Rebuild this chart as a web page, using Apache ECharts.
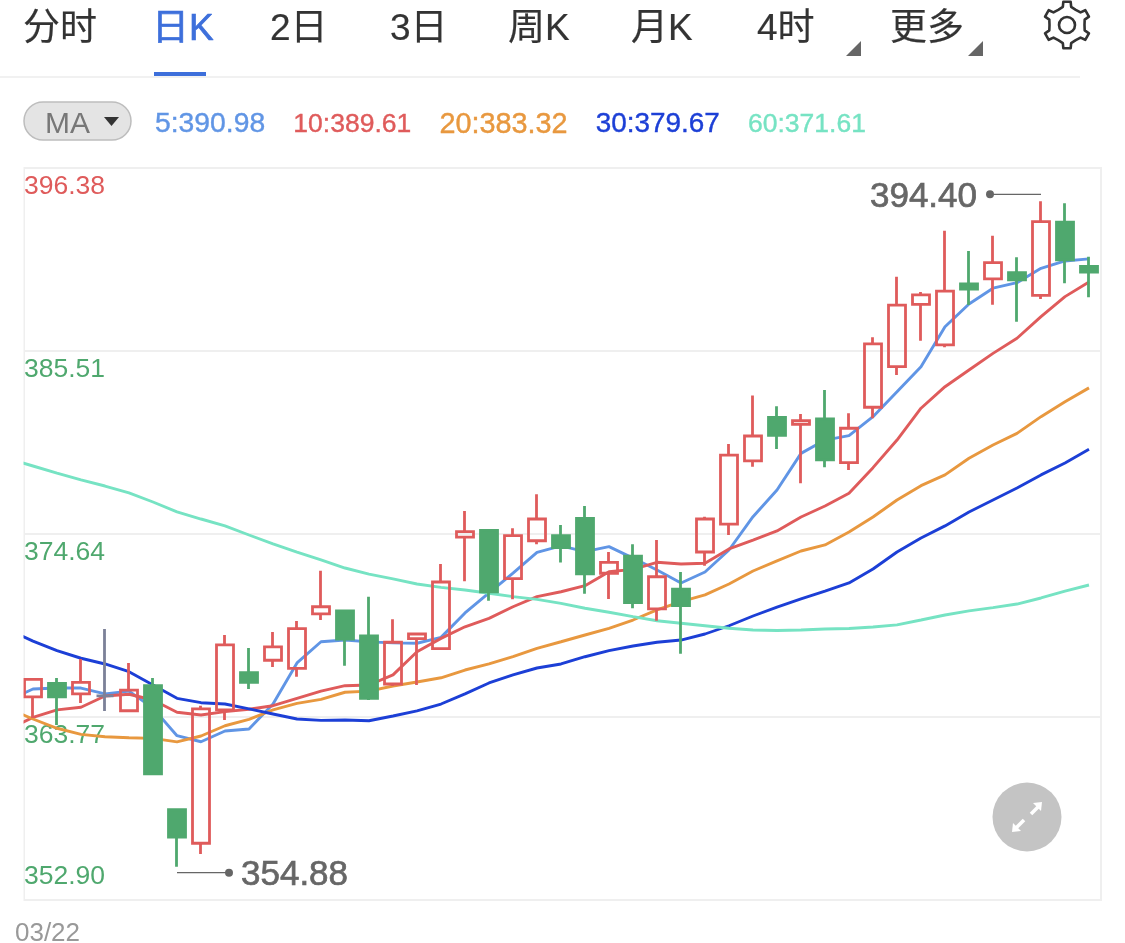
<!DOCTYPE html>
<html><head><meta charset="utf-8">
<script src="https://cdn.jsdelivr.net/npm/echarts@6/dist/echarts.min.js"></script>
<style>html,body{margin:0;padding:0;background:#fff}#c{width:1125px;height:943px}</style>
</head><body><div id="c"></div>
<script>
const tabs = ['分时','日K','2日','3日','周K','月K','4时','更多'];
const maNames = ['5:390.98','10:389.61','20:383.32','30:379.67','60:371.61'];
const yTicks = [352.90,363.77,374.64,385.51,396.38];
const firstDate = '03/22';

const opens  = [364.96,365.77,365.14,365.02,364.14,365.63,358.26,356.27,364.19,366.40,367.14,366.66,369.89,370.07,368.58,365.73,368.42,367.83,374.46,374.86,371.99,374.24,374.54,375.57,372.31,373.32,370.19,371.37,373.57,375.23,378.98,381.57,381.16,381.47,378.88,382.17,384.58,388.28,385.87,389.49,389.80,390.16,388.82,393.17,390.54];
const closes = [366.01,364.96,365.83,365.02,365.37,360.40,356.64,364.25,368.05,365.83,367.93,369.02,370.32,368.39,364.88,368.21,368.70,371.79,374.78,371.20,374.54,375.53,373.83,372.28,372.96,370.56,372.10,370.38,375.53,379.33,380.46,380.50,381.37,379.05,380.92,385.93,388.24,388.84,389.07,389.19,390.76,389.73,393.19,390.92,390.20];
const lows   = [363.71,363.30,364.60,364.13,364.14,360.40,354.88,355.63,363.59,365.43,366.74,366.16,369.53,366.82,364.78,365.61,365.67,367.83,371.83,370.68,370.76,374.03,372.94,371.09,370.78,370.23,369.49,367.53,372.76,374.58,378.64,379.69,377.65,378.60,378.44,381.51,384.09,386.12,385.73,388.24,388.26,387.25,388.60,389.53,388.70];
const highs  = [366.05,366.09,367.22,369.00,366.98,366.09,358.30,364.44,368.64,367.87,368.82,369.47,372.46,370.13,370.92,369.57,368.72,372.86,376.01,374.88,374.98,377.00,375.18,376.30,373.57,374.03,374.28,372.38,375.67,379.99,382.86,382.23,381.77,383.19,381.81,386.32,389.92,389.02,392.66,391.45,392.36,391.08,394.40,394.28,391.11];

// Each moving average starts one session before the first visible candle (clipped at the chart edge).
const ma5  = [364.78,365.43,365.49,365.49,365.14,365.31,364.30,362.66,362.30,362.94,363.06,364.54,366.98,368.24,368.34,368.23,368.17,368.15,368.50,369.95,371.14,372.32,373.55,373.93,373.59,373.89,373.21,372.50,371.73,372.38,373.69,375.67,377.25,379.43,380.22,380.48,381.61,383.09,384.58,386.95,388.30,389.24,389.57,390.42,390.86,390.98];
const ma10 = [363.06,363.75,364.19,364.35,365.02,365.12,364.78,364.05,363.89,364.09,364.23,364.44,364.88,365.31,365.63,365.67,366.27,367.65,368.44,369.13,369.63,370.32,370.92,371.21,371.57,372.40,372.54,372.96,372.86,372.90,373.75,374.28,374.82,375.65,376.30,377.06,378.58,380.22,382.11,383.39,384.38,385.37,386.27,387.55,388.74,389.61];
const ma20 = [364.25,363.65,363.10,362.74,362.60,362.54,362.50,362.29,362.64,363.25,363.63,364.19,364.58,364.82,365.24,365.31,365.61,365.85,366.10,366.56,366.92,367.35,367.85,368.24,368.64,369.04,369.53,370.13,370.62,371.02,371.67,372.44,373.04,373.63,373.99,374.76,375.65,376.66,377.51,378.15,379.14,379.93,380.62,381.61,382.50,383.32];
const ma30 = [368.94,368.28,367.71,367.26,366.92,366.46,365.67,364.88,364.62,364.54,364.25,363.95,363.65,363.57,363.59,363.55,363.83,364.13,364.54,365.14,365.79,366.27,366.68,366.92,367.35,367.71,367.99,368.21,368.34,368.70,369.19,369.77,370.30,370.78,371.25,371.73,372.56,373.57,374.40,375.12,375.95,376.66,377.37,378.15,378.86,379.67];
const ma60 = [379.10,378.68,378.26,377.85,377.49,377.08,376.54,375.95,375.53,375.12,374.58,374.05,373.57,373.10,372.62,372.26,371.97,371.67,371.47,371.31,371.12,370.92,370.76,370.52,370.23,369.99,369.73,369.49,369.34,369.19,369.04,368.94,368.91,368.94,369.00,369.03,369.12,369.24,369.53,369.83,370.07,370.27,370.48,370.84,371.25,371.61];
const maValues = [ma5, ma10, ma20, ma30, ma60];
const maColors = ['#6095e5','#df5b5b','#e8983f','#1c3fd6','#76e3c3'];
const maFontSizes = [28.3,26.5,28.8,27.9,26.5];

const categories = ['', firstDate].concat(opens.slice(1).map(() => ''));
const candleData = [['-','-','-','-']].concat(opens.map((o, i) => [o, closes[i], lows[i], highs[i]]));

const RED = '#df5b5b', GREEN = '#4fa86e', FONT = '"Liberation Sans","Noto Sans CJK SC",sans-serif';
const chart = echarts.init(document.getElementById('c'), null, {renderer:'canvas'});

// six-lobed settings gear outline
const gearPts = [];
for (let k = 0; k < 6; k++) {
  const a = (k*60-90)*Math.PI/180;
  [[-30,17.5],[-13,18.5],[-9,23.5],[9,23.5],[13,18.5]].forEach(p => {
    const t = a + p[0]*Math.PI/180;
    gearPts.push([1067 + p[1]*Math.cos(t), 25 + p[1]*Math.sin(t)]);
  });
}

const tabX = [23,152,270,390,508,631,757,890];
const graphic = tabs.map((t, i) => ({
  type:'text', x:tabX[i], y:30, z:20,
  style:{text:t, font:'37px '+FONT, fill:i===1?'#3d6fdb':'#333', textVerticalAlign:'middle',
         stroke:i===1?'#3d6fdb':'#333', lineWidth:i===1?0.7:0.2}
}));
graphic.push(
  {type:'rect', z:20, shape:{x:154,y:72,width:52,height:4}, style:{fill:'#3d6fdb'}},
  {type:'rect', z:1, shape:{x:0,y:76,width:1080,height:2}, style:{fill:'#f1f1f1'}},
  {type:'polygon', z:20, shape:{points:[[861,41],[861,56],[846,56]]}, style:{fill:'#666'}},
  {type:'polygon', z:20, shape:{points:[[983,41],[983,56],[968,56]]}, style:{fill:'#666'}},
  {type:'polygon', z:20, shape:{points:gearPts}, style:{fill:'none',stroke:'#333',lineWidth:2.6,lineJoin:'round'}},
  {type:'circle', z:20, shape:{cx:1067,cy:25,r:8}, style:{fill:'none',stroke:'#333',lineWidth:2.6}},
  {type:'rect', z:20, shape:{x:24,y:102,width:107,height:38,r:19}, style:{fill:'#e4e4e4',stroke:'#bdbdbd',lineWidth:1.5}},
  {type:'text', z:21, x:45, y:125, style:{text:'MA', font:'30px '+FONT, fill:'#777', textVerticalAlign:'middle'}},
  {type:'polygon', z:21, shape:{points:[[104,117],[119,117],[111.5,126]]}, style:{fill:'#333'}},
  {type:'rect', z:10, shape:{x:0,y:160,width:23.5,height:750}, style:{fill:'#fff'}},
  {type:'circle', z:20, shape:{cx:1027,cy:817,r:34.5}, style:{fill:'#c4c4c4'}},
  {type:'line', z:21, shape:{x1:1031,y1:814,x2:1039,y2:806}, style:{stroke:'#fff',lineWidth:3.5}},
  {type:'polygon', z:21, shape:{points:[[1042,802],[1041,811],[1033,803]]}, style:{fill:'#fff'}},
  {type:'line', z:21, shape:{x1:1024,y1:820,x2:1016,y2:828}, style:{stroke:'#fff',lineWidth:3.5}},
  {type:'polygon', z:21, shape:{points:[[1012,832],[1013,823],[1021,831]]}, style:{fill:'#fff'}}
);

const option = {
  animation:false,
  backgroundColor:'#fff',
  textStyle:{fontFamily:FONT},
  legend:{
    show:true, left:150, top:110, itemWidth:0, itemHeight:0, itemGap:23, selectedMode:false,
    icon:'rect', padding:0,
    data:maNames.map((n, i) => ({name:n, textStyle:{color:maColors[i], fontSize:maFontSizes[i], textBorderColor:maColors[i], textBorderWidth:0.4}})),
    textStyle:{fontSize:28, fontFamily:FONT}
  },
  grid:[
    {left:-3, top:168, width:1104, height:732, outerBoundsMode:'none', z:2},
    {left:24, top:168, width:1077, height:732, show:true, borderColor:'#efefef', borderWidth:2, backgroundColor:'transparent', outerBoundsMode:'none'}
  ],
  xAxis:[
    {type:'category', gridIndex:0, data:categories, boundaryGap:true, axisLine:{show:false}, axisTick:{show:false}, splitLine:{show:false},
     axisLabel:{interval:0, hideOverlap:false, color:'#999', fontSize:26, margin:21, padding:[0,0,0,29], fontFamily:FONT}},
    {type:'value', gridIndex:1, show:false, min:0, max:1}
  ],
  yAxis:[
    {type:'value', gridIndex:0, min:yTicks[0], max:yTicks[4], show:false, splitLine:{show:false}},
    {type:'value', gridIndex:1, min:yTicks[0], max:yTicks[4], interval:yTicks[1]-yTicks[0], position:'left',
     axisLine:{show:false}, axisTick:{show:false},
     splitLine:{show:true, lineStyle:{color:'#efefef', width:2}},
     axisLabel:{inside:true, margin:0, align:'left', verticalAlign:'top', verticalAlignMinLabel:'bottom', verticalAlignMaxLabel:'top',
       padding:[5,0,10,0], fontSize:26.5, fontFamily:FONT, showMinLabel:true, showMaxLabel:true,
       formatter:v => v.toFixed(2), color:v => (v > yTicks[3] ? RED : GREEN)}}
  ],
  series:[
    ...maNames.map((n, i) => ({
      type:'line', name:n, xAxisIndex:0, yAxisIndex:0, data:maValues[i], z:3,
      showSymbol:false, symbol:'none', smooth:false, lineStyle:{color:maColors[i], width:2.9}, itemStyle:{color:maColors[i]}, silent:true
    })),
    {type:'candlestick', name:'日K', xAxisIndex:0, yAxisIndex:0, data:candleData, z:5, barWidth:18, silent:true,
     itemStyle:{color:'transparent', color0:GREEN, borderColor:RED, borderColor0:GREEN, borderColorDoji:'#7c8198', borderWidth:2.8}}
  ],
  graphic:{elements:graphic}
};
chart.setOption(option);

// price extremes: leader, dot and label anchored through the chart's own scales
const hiVal = Math.max(...highs), loVal = Math.min(...lows);
const hiPt = chart.convertToPixel({gridIndex:0}, [highs.indexOf(hiVal)+1, hiVal]);
const loPt = chart.convertToPixel({gridIndex:0}, [lows.indexOf(loVal)+1, loVal]);
const hy = hiPt[1]-7, ly = loPt[1]+6;
const labelFont = '35px '+FONT;
chart.setOption({graphic:{elements:[
  {type:'line', z:20, shape:{x1:hiPt[0],y1:hy,x2:hiPt[0]-51,y2:hy}, style:{stroke:'#666',lineWidth:1.2}},
  {type:'circle', z:20, shape:{cx:hiPt[0]-51,cy:hy,r:4}, style:{fill:'#666'}},
  {type:'text', z:20, x:hiPt[0]-64, y:hy+3, style:{text:hiVal.toFixed(2), font:labelFont, fill:'#666', stroke:'#666', lineWidth:0.7, textAlign:'right', textVerticalAlign:'middle'}},
  {type:'line', z:20, shape:{x1:loPt[0],y1:ly,x2:loPt[0]+52,y2:ly}, style:{stroke:'#666',lineWidth:1.2}},
  {type:'circle', z:20, shape:{cx:loPt[0]+52,cy:ly,r:4}, style:{fill:'#666'}},
  {type:'text', z:20, x:loPt[0]+64, y:ly+3, style:{text:loVal.toFixed(2), font:labelFont, fill:'#666', stroke:'#666', lineWidth:0.7, textAlign:'left', textVerticalAlign:'middle'}}
].map((el, i) => Object.assign({id:'extreme'+i}, el))}});
</script></body></html>
